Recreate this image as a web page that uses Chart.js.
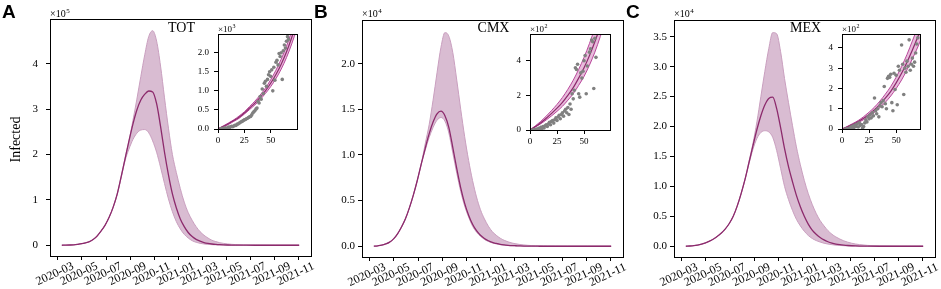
<!DOCTYPE html>
<html>
<head>
<meta charset="utf-8">
<script src="https://cdn.jsdelivr.net/npm/chart.js@4.4.0/dist/chart.umd.min.js"></script>
<style>
  body { margin: 0; background: #fff; }
  #wrap { position: relative; width: 941px; height: 289px; }
  canvas { position: absolute; left: 0; top: 0; }
</style>
</head>
<body>
<div id="wrap">
  <canvas id="mainA" width="941" height="289"></canvas>
  <canvas id="mainB" width="941" height="289"></canvas>
  <canvas id="mainC" width="941" height="289"></canvas>
  <canvas id="insA" width="941" height="289"></canvas>
  <canvas id="insB" width="941" height="289"></canvas>
  <canvas id="insC" width="941" height="289"></canvas>
</div>
<script>
// x = days since 2020-03-01
var monthTicks = [0, 61, 122, 184, 245, 306, 365, 426, 487, 549, 610];
var monthLabels = ['2020-03', '2020-05', '2020-07', '2020-09', '2020-11', '2021-01',
                   '2021-03', '2021-05', '2021-07', '2021-09', '2021-11'];

// sample days used by all three main panels
var days = [10, 20, 30, 40, 50, 60, 70, 80, 90, 100, 110, 120, 130, 140, 150, 160, 170, 180, 190, 200,
            210, 220, 230, 240, 250, 260, 270, 280, 290, 300, 310, 320, 330, 340, 350, 360, 370, 380, 390, 400,
            410, 420, 430, 440, 450, 470, 500, 550, 611];

// panel A, TOT (x1e5)
var lowerA = [0, 0.002, 0.005, 0.01, 0.02, 0.033, 0.053, 0.08, 0.13, 0.21, 0.32, 0.45, 0.62, 0.84, 1.12, 1.48, 1.86, 2.12, 2.33, 2.47,
              2.54, 2.55, 2.48, 2.3, 2.05, 1.72, 1.36, 1.02, 0.74, 0.52, 0.36, 0.24, 0.16, 0.1, 0.065, 0.042, 0.028, 0.018, 0.012, 0.008,
              0.005, 0.003, 0.002, 0.001, 0.001, 0, 0, 0, 0];
var meanA  = [0, 0.002, 0.005, 0.01, 0.02, 0.033, 0.053, 0.08, 0.13, 0.21, 0.32, 0.45, 0.62, 0.84, 1.12, 1.5, 1.9, 2.3, 2.67, 2.98,
              3.2, 3.33, 3.4, 3.38, 3.12, 2.62, 2.05, 1.55, 1.13, 0.82, 0.58, 0.41, 0.28, 0.19, 0.13, 0.09, 0.06, 0.04, 0.027, 0.018,
              0.012, 0.008, 0.005, 0.003, 0.002, 0.001, 0, 0, 0];
var upperA = [0, 0.002, 0.005, 0.01, 0.02, 0.033, 0.053, 0.08, 0.13, 0.21, 0.32, 0.45, 0.62, 0.84, 1.12, 1.5, 1.92, 2.3, 2.75, 3.22,
              3.72, 4.2, 4.6, 4.73, 4.5, 3.95, 3.25, 2.58, 2.0, 1.6, 1.25, 0.95, 0.72, 0.55, 0.41, 0.3, 0.22, 0.16, 0.11, 0.08,
              0.055, 0.04, 0.028, 0.02, 0.014, 0.007, 0.003, 0, 0];

// panel B, CMX (x1e4)
var lowerB = [0, 0.005, 0.012, 0.025, 0.045, 0.08, 0.135, 0.21, 0.3, 0.42, 0.56, 0.72, 0.9, 1.05, 1.19, 1.3, 1.38, 1.41, 1.37, 1.24,
              1.02, 0.8, 0.6, 0.44, 0.32, 0.22, 0.155, 0.11, 0.075, 0.052, 0.036, 0.025, 0.017, 0.012, 0.008, 0.006, 0.004, 0.003, 0.002, 0.001,
              0.001, 0, 0, 0, 0, 0, 0, 0, 0];
var meanB  = [0, 0.005, 0.012, 0.025, 0.045, 0.08, 0.135, 0.21, 0.3, 0.42, 0.56, 0.72, 0.9, 1.07, 1.23, 1.36, 1.45, 1.48, 1.43, 1.3,
              1.08, 0.85, 0.64, 0.47, 0.34, 0.24, 0.17, 0.12, 0.085, 0.06, 0.042, 0.03, 0.02, 0.014, 0.01, 0.007, 0.005, 0.003, 0.002, 0.0015,
              0.001, 0.001, 0, 0, 0, 0, 0, 0, 0];
var upperB = [0, 0.005, 0.012, 0.025, 0.045, 0.08, 0.135, 0.21, 0.3, 0.42, 0.56, 0.72, 0.9, 1.12, 1.33, 1.6, 1.9, 2.18, 2.34, 2.3,
              2.12, 1.82, 1.5, 1.2, 0.94, 0.72, 0.54, 0.4, 0.3, 0.22, 0.16, 0.12, 0.088, 0.065, 0.048, 0.035, 0.026, 0.019, 0.014, 0.01,
              0.007, 0.005, 0.004, 0.003, 0.002, 0.001, 0, 0, 0];

// panel C, MEX (x1e4)
var lowerC = [0, 0.004, 0.01, 0.02, 0.035, 0.055, 0.085, 0.12, 0.165, 0.22, 0.29, 0.38, 0.5, 0.67, 0.88, 1.12, 1.38, 1.62, 1.8, 1.9,
              1.93, 1.91, 1.82, 1.6, 1.3, 1.0, 0.78, 0.6, 0.45, 0.34, 0.25, 0.18, 0.13, 0.095, 0.07, 0.05, 0.036, 0.026, 0.018, 0.013,
              0.009, 0.006, 0.004, 0.003, 0.002, 0.001, 0, 0, 0];
var meanC  = [0, 0.004, 0.01, 0.02, 0.035, 0.055, 0.085, 0.12, 0.165, 0.22, 0.29, 0.38, 0.5, 0.67, 0.88, 1.12, 1.4, 1.68, 1.95, 2.18,
              2.36, 2.47, 2.49, 2.3, 1.98, 1.63, 1.33, 1.08, 0.85, 0.66, 0.5, 0.37, 0.27, 0.2, 0.145, 0.105, 0.075, 0.053, 0.037, 0.026,
              0.018, 0.012, 0.008, 0.005, 0.003, 0.001, 0, 0, 0];
var upperC = [0, 0.004, 0.01, 0.02, 0.035, 0.055, 0.085, 0.12, 0.165, 0.22, 0.29, 0.38, 0.5, 0.67, 0.88, 1.12, 1.42, 1.72, 2.08, 2.5,
              2.92, 3.3, 3.57, 3.55, 3.25, 2.8, 2.4, 2.02, 1.66, 1.36, 1.1, 0.88, 0.7, 0.55, 0.43, 0.34, 0.26, 0.2, 0.155, 0.12,
              0.09, 0.068, 0.05, 0.037, 0.027, 0.014, 0.005, 0.001, 0];

// insets: days since first case
var insetX = [0, 5, 10, 15, 20, 25, 30, 35, 40, 45, 50, 55, 60, 65, 70, 75];
var insMeanA  = [0, 0.07, 0.14, 0.22, 0.31, 0.42, 0.55, 0.68, 0.83, 1.0, 1.2, 1.43, 1.7, 2.02, 2.4, 2.84];
var insUpperA = [0, 0.08, 0.16, 0.24, 0.34, 0.45, 0.59, 0.73, 0.89, 1.07, 1.29, 1.54, 1.83, 2.17, 2.57, 3.05];
var insLowerA = [0, 0.06, 0.12, 0.2, 0.28, 0.39, 0.51, 0.63, 0.77, 0.93, 1.11, 1.32, 1.57, 1.87, 2.23, 2.64];
var insMeanB  = [0, 0.2, 0.42, 0.68, 0.96, 1.26, 1.6, 2.0, 2.45, 3.0, 3.6, 4.3, 5.1, 6.0, 7.0, 8.1];
var insUpperB = [0, 0.24, 0.5, 0.8, 1.13, 1.48, 1.88, 2.35, 2.88, 3.5, 4.2, 5.0, 5.9, 6.9, 8.0, 9.2];
var insLowerB = [0, 0.17, 0.36, 0.58, 0.82, 1.08, 1.37, 1.72, 2.1, 2.58, 3.1, 3.75, 4.5, 5.4, 6.4, 7.5];
var insMeanC  = [0, 0.11, 0.23, 0.37, 0.53, 0.72, 0.95, 1.22, 1.52, 1.86, 2.28, 2.75, 3.3, 3.9, 4.55, 5.25];
var insUpperC = [0, 0.13, 0.27, 0.42, 0.61, 0.83, 1.08, 1.38, 1.72, 2.1, 2.56, 3.08, 3.68, 4.35, 5.05, 5.8];
var insLowerC = [0, 0.09, 0.19, 0.32, 0.46, 0.62, 0.82, 1.06, 1.32, 1.63, 2.0, 2.42, 2.92, 3.47, 4.05, 4.7];

// observed cases in the insets
var obsDayA = [3, 5, 7, 8, 10, 11, 12, 13, 14, 15, 16, 17, 18, 19, 20, 21, 22, 23, 24, 25, 26, 27, 28, 29, 30, 31, 32, 33, 34, 35, 36, 37, 38, 39, 40, 41, 42, 43, 44, 45, 46, 47, 48, 49, 50, 51, 52, 53, 54, 55, 56, 57, 58, 59, 60, 61, 62, 63, 64, 65, 66, 67];
var obsA    = [0.01, 0.02, 0.03, 0.02, 0.05, 0.04, 0.06, 0.07, 0.06, 0.08, 0.1, 0.09, 0.12, 0.13, 0.15, 0.17, 0.19, 0.2, 0.22, 0.24, 0.25, 0.27, 0.28, 0.3, 0.32, 0.33, 0.37, 0.42, 0.45, 0.48, 0.52, 0.55, 0.72, 0.68, 0.85, 0.78, 1.05, 0.93, 1.2, 1.25, 1.12, 1.3, 1.42, 1.5, 1.38, 1.55, 1.0, 1.62, 1.28, 1.75, 1.8, 1.68, 1.98, 1.9, 2.0, 1.3, 2.05, 2.2, 2.12, 2.3, 2.42, 2.35];
var obsDayB = [2, 4, 6, 8, 9, 10, 11, 12, 13, 14, 15, 16, 17, 18, 19, 20, 21, 22, 23, 24, 25, 26, 27, 28, 29, 30, 31, 32, 33, 34, 35, 36, 37, 38, 39, 40, 41, 42, 43, 44, 45, 46, 47, 48, 49, 50, 51, 52, 53, 55, 56, 57, 58, 59, 60, 61];
var obsB    = [0, 0.02, 0.05, 0.1, 0.05, 0.15, 0.08, 0.2, 0.12, 0.25, 0.3, 0.2, 0.35, 0.45, 0.3, 0.5, 0.55, 0.4, 0.6, 0.7, 0.55, 0.75, 0.85, 0.65, 0.9, 1.0, 0.8, 1.1, 1.2, 1.0, 1.3, 0.9, 1.5, 1.2, 2.1, 1.8, 2.3, 3.6, 3.5, 3.8, 2.1, 1.9, 3.3, 3.0, 3.4, 4.0, 4.3, 2.1, 3.7, 4.5, 4.7, 5.2, 5.1, 2.4, 5.3, 4.2];
var obsDayC = [3, 5, 7, 8, 9, 10, 11, 12, 13, 14, 15, 16, 17, 18, 19, 20, 21, 22, 23, 24, 25, 26, 27, 28, 29, 30, 31, 32, 33, 34, 35, 36, 37, 38, 39, 40, 41, 42, 43, 44, 45, 46, 47, 48, 49, 50, 51, 52, 53, 55, 56, 57, 58, 59, 60, 61, 62, 63, 64, 65, 66, 67, 68, 69, 70];
var obsC    = [0, 0.02, 0.05, 0.1, 0.03, 0.15, 0.08, 0.2, 0.12, 0.25, 0.1, 0.3, 0.18, 0.22, 0.05, 0.12, 0.3, 0.45, 0.35, 0.6, 0.5, 0.7, 0.55, 0.8, 0.65, 1.53, 0.9, 0.75, 1.0, 0.6, 1.15, 1.3, 1.1, 1.4, 2.1, 1.25, 1.0, 2.5, 2.6, 2.55, 2.7, 1.3, 0.9, 2.75, 1.95, 2.65, 1.2, 3.1, 2.9, 4.15, 3.2, 1.7, 3.0, 2.8, 3.35, 3.1, 4.4, 2.9, 3.2, 3.5, 3.1, 3.3, 3.75, 4.2, 4.5];

Chart.defaults.font.family = '"Liberation Serif", "DejaVu Serif", serif';
Chart.defaults.color = '#000';

var meanColor = '#8c2a6c';
var bandEdge = '#c99fbf';
var bandFill = '#d9bcd2';
var insBand = '#e8bcdc';
var insEdge = '#b9479b';
var serif = '"Liberation Serif", serif';

function pts(xs, ys) {
  return ys.map(function (v, i) { return { x: xs[i], y: v }; });
}

function sup(ctx, x, y, base, exp, size) {
  ctx.font = size + 'px ' + serif;
  ctx.textAlign = 'left';
  ctx.textBaseline = 'alphabetic';
  ctx.fillText(base, x, y);
  var w = ctx.measureText(base).width;
  ctx.font = Math.round(size * 0.72) + 'px ' + serif;
  ctx.fillText(exp, x + w + 0.5, y - size * 0.4);
}

var mainDeco = {
  id: 'mainDeco',
  afterDraw: function (chart, args, o) {
    var ctx = chart.ctx, a = chart.chartArea, x = chart.scales.x;
    ctx.save();
    ctx.strokeStyle = '#000';
    ctx.lineWidth = 1;
    ctx.strokeRect(Math.round(a.left) + 0.5, Math.round(a.top) + 0.5,
                   Math.round(a.right - a.left), Math.round(a.bottom - a.top));
    ctx.fillStyle = '#000';
    // rotated date labels, centred under their ticks
    ctx.font = '12px ' + serif;
    ctx.textAlign = 'center';
    ctx.textBaseline = 'middle';
    monthTicks.forEach(function (v, i) {
      ctx.save();
      ctx.translate(x.getPixelForValue(v) - 3, a.bottom + 18);
      ctx.rotate(-25 * Math.PI / 180);
      ctx.fillText(monthLabels[i], 0, 0);
      ctx.restore();
    });
    ctx.font = 'bold 19px "Liberation Sans", sans-serif';
    ctx.textAlign = 'left';
    ctx.textBaseline = 'alphabetic';
    ctx.fillText(o.letter, a.left - 48, 18);
    sup(ctx, a.left, 17, '\u00d710', o.exp, 10);
    ctx.font = '14px ' + serif;
    ctx.textAlign = 'center';
    ctx.fillText(o.title, (a.left + a.right) / 2 + 1, 32);
    if (o.ylabel) {
      ctx.save();
      ctx.translate(16, (a.top + a.bottom) / 2 + 2);
      ctx.rotate(-Math.PI / 2);
      ctx.font = '14px ' + serif;
      ctx.textBaseline = 'middle';
      ctx.fillText(o.ylabel, 0, 0);
      ctx.restore();
    }
    ctx.restore();
  }
};

var insetDeco = {
  id: 'insetDeco',
  beforeDraw: function (chart) {
    var ctx = chart.ctx, a = chart.chartArea;
    ctx.save();
    ctx.fillStyle = '#fff';
    ctx.fillRect(a.left, a.top, a.right - a.left, a.bottom - a.top);
    ctx.restore();
  },
  afterDraw: function (chart, args, o) {
    var ctx = chart.ctx, a = chart.chartArea;
    ctx.save();
    ctx.strokeStyle = '#000';
    ctx.lineWidth = 1;
    ctx.strokeRect(Math.round(a.left) + 0.5, Math.round(a.top) + 0.5,
                   Math.round(a.right - a.left), Math.round(a.bottom - a.top));
    ctx.fillStyle = '#000';
    sup(ctx, a.left, a.top - 2, '\u00d710', o.exp, 9);
    ctx.restore();
  }
};

function axisGrid() {
  return { display: true, drawOnChartArea: false, drawTicks: true, tickLength: 4, color: '#000', lineWidth: 1 };
}

function curve(xs, ys, color, width, extra) {
  var d = { data: pts(xs, ys), borderColor: color, borderWidth: width, pointRadius: 0, fill: false,
            cubicInterpolationMode: 'monotone' };
  for (var k in extra) d[k] = extra[k];
  return d;
}

function mainChart(id, lower, mean, upper, yMin, yMax, yTicks, dec, tickPad, pad, deco) {
  return new Chart(document.getElementById(id), {
    type: 'line',
    data: {
      datasets: [
        curve(days, mean, meanColor, 1.3),
        curve(days, upper, bandEdge, 1, { backgroundColor: bandFill, fill: '+1' }),
        curve(days, lower, bandEdge, 1)
      ]
    },
    options: {
      responsive: false, animation: false, devicePixelRatio: 1,
      layout: { padding: pad },
      plugins: { legend: { display: false }, tooltip: { enabled: false },
                 filler: { drawTime: 'beforeDatasetsDraw' }, mainDeco: deco },
      scales: {
        x: {
          type: 'linear', min: -20, max: 641,
          afterBuildTicks: function (s) { s.ticks = monthTicks.map(function (v) { return { value: v }; }); },
          afterFit: function (s) { s.height = 10; },
          ticks: { display: false },
          grid: axisGrid(), border: { display: false }
        },
        y: {
          type: 'linear', min: yMin, max: yMax,
          afterBuildTicks: function (s) { s.ticks = yTicks.map(function (v) { return { value: v }; }); },
          afterFit: function (s) { s.width = 50; },
          ticks: { font: { size: 11 }, padding: tickPad, callback: function (v) { return v.toFixed(dec); } },
          grid: axisGrid(), border: { display: false }
        }
      }
    },
    plugins: [mainDeco]
  });
}

function insetChart(id, lower, mean, upper, obsX, obsY, xMax, yMax, yTicks, dec, pad, exp) {
  return new Chart(document.getElementById(id), {
    type: 'line',
    data: {
      datasets: [
        { data: pts(obsX, obsY), showLine: false, pointRadius: 1.8, pointBorderWidth: 0,
          pointBackgroundColor: '#808080', borderColor: '#808080' },
        curve(insetX, mean, meanColor, 1.2),
        curve(insetX, upper, insEdge, 1, { backgroundColor: insBand, fill: '+1' }),
        curve(insetX, lower, insEdge, 1)
      ]
    },
    options: {
      responsive: false, animation: false, devicePixelRatio: 1,
      layout: { padding: pad },
      plugins: { legend: { display: false }, tooltip: { enabled: false },
                 filler: { drawTime: 'beforeDatasetsDraw' }, insetDeco: { exp: exp } },
      scales: {
        x: {
          type: 'linear', min: 0, max: xMax,
          afterBuildTicks: function (s) { s.ticks = [0, 25, 50].map(function (v) { return { value: v }; }); },
          afterFit: function (s) { s.height = 16; },
          ticks: { font: { size: 9 }, padding: 2, maxRotation: 0, callback: function (v) { return String(v); } },
          grid: axisGrid(), border: { display: false }
        },
        y: {
          type: 'linear', min: 0, max: yMax,
          afterBuildTicks: function (s) { s.ticks = yTicks.map(function (v) { return { value: v }; }); },
          afterFit: function (s) { s.width = 28; },
          ticks: { font: { size: 9 }, padding: 5, callback: function (v) { return v.toFixed(dec); } },
          grid: axisGrid(), border: { display: false }
        }
      }
    },
    plugins: [insetDeco]
  });
}

mainChart('mainA', lowerA, meanA, upperA, -0.2375, 4.9875, [0, 1, 2, 3, 4], 0, 8,
  { left: 0, right: 630, top: 19, bottom: 23 }, { letter: 'A', exp: '5', title: 'TOT', ylabel: 'Infected' });
mainChart('mainB', lowerB, meanB, upperB, -0.118, 2.478, [0, 0.5, 1, 1.5, 2], 1, 3,
  { left: 312, right: 318, top: 20, bottom: 22 }, { letter: 'B', exp: '4', title: 'CMX' });
mainChart('mainC', lowerC, meanC, upperC, -0.18, 3.78, [0, 0.5, 1, 1.5, 2, 2.5, 3, 3.5], 1, 3,
  { left: 624, right: 6, top: 20, bottom: 22 }, { letter: 'C', exp: '4', title: 'MEX' });

insetChart('insA', insLowerA, insMeanA, insUpperA, obsDayA, obsA, 75, 2.49, [0, 0.5, 1, 1.5, 2], 1,
  { left: 190, right: 644, top: 34, bottom: 144 }, '3');
insetChart('insB', insLowerB, insMeanB, insUpperB, obsDayB, obsB, 74, 5.55, [0, 2, 4], 0,
  { left: 502, right: 331, top: 34, bottom: 143 }, '2');
insetChart('insC', insLowerC, insMeanC, insUpperC, obsDayC, obsC, 72, 4.69, [0, 1, 2, 3, 4], 0,
  { left: 814, right: 21, top: 34, bottom: 144 }, '2');
</script>
</body>
</html>
